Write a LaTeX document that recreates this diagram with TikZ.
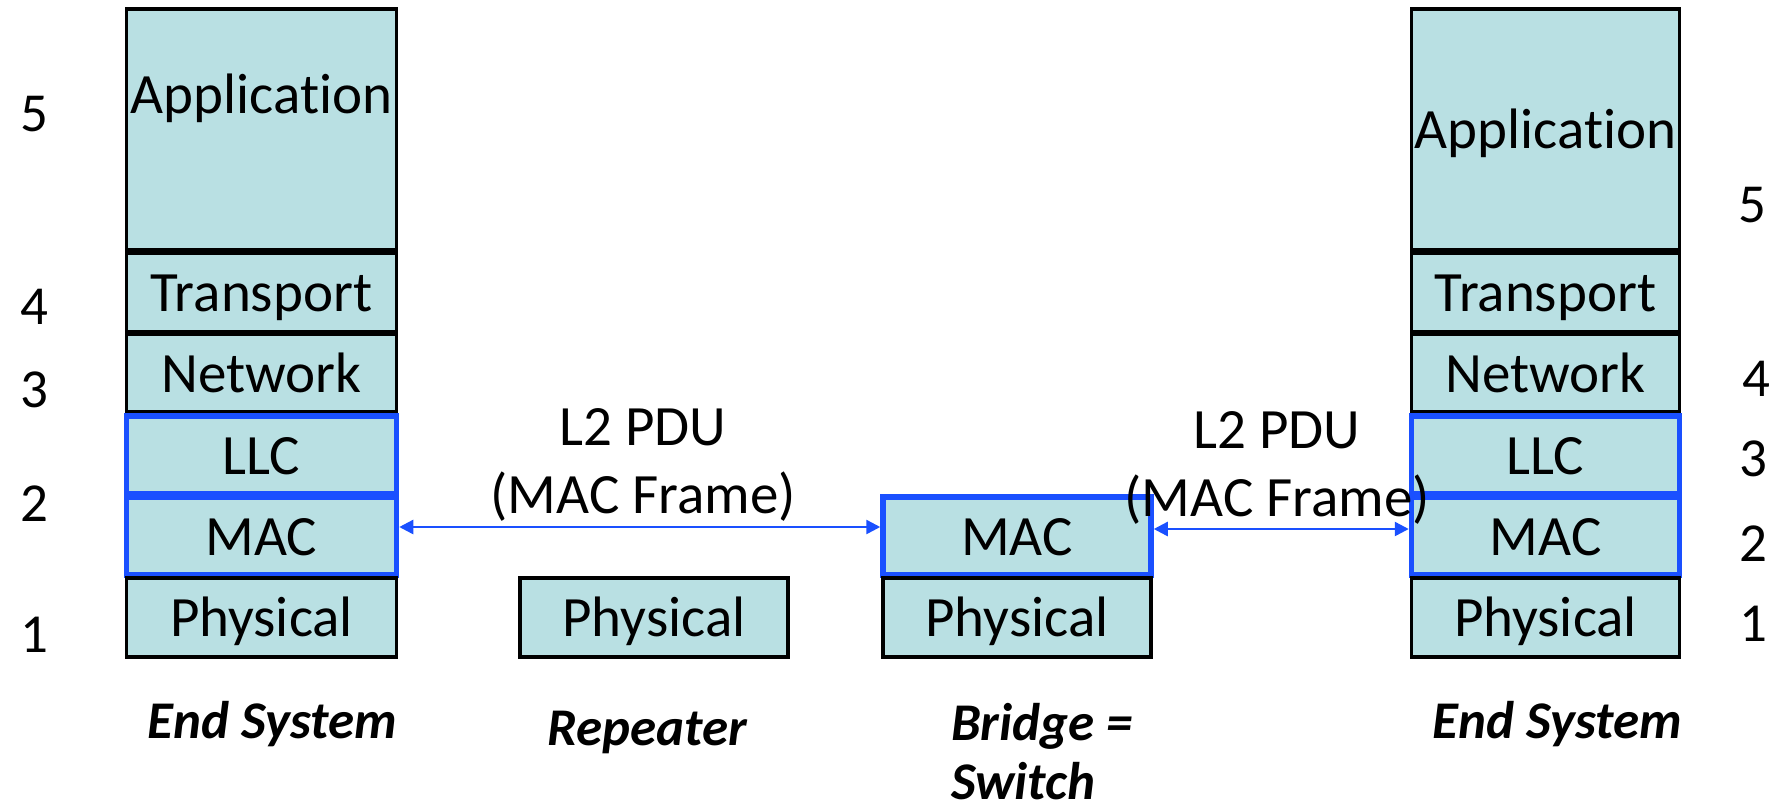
\documentclass[tikz,border=0pt]{standalone}
\usepackage{fontspec}
\setmainfont[Ligatures=NoCommon]{Carlito}
\usetikzlibrary{arrows.meta}
\definecolor{layerfill}{RGB}{185,224,227}
\definecolor{linkblue}{RGB}{26,80,255}
\begin{document}
\begin{tikzpicture}[x=1pt,y=-1pt,
  layer/.style={draw=black, line width=3.5pt, fill=layerfill, inner sep=0pt,
    minimum width=268pt, text height=42pt, text depth=4pt, font=\fontsize{57}{60}\selectfont},
  bluelayer/.style={layer, draw=linkblue, line width=5.5pt},
  num/.style={font=\fontsize{55}{60}\selectfont, inner sep=0pt},
  lbl/.style={font=\fontsize{57}{68}\selectfont, align=center, inner sep=0pt},
  sysname/.style={font=\fontsize{53}{59}\selectfont\bfseries\itshape, inner sep=0pt},
  link/.style={draw=linkblue, line width=2.5pt, {Triangle[length=14pt,width=14pt]}-{Triangle[length=14pt,width=14pt]}}
]
\useasboundingbox (0,0) rectangle (1784,807);

% Left end system
\node[layer, minimum width=270pt, minimum height=241pt] (appL) at (261.5,129.5) {};
\node[font=\fontsize{57}{60}\selectfont, inner sep=0pt] (appLt) at (261.5,98) {Application};
\node[layer, minimum width=270pt, minimum height=79pt] (trL) at (261.5,292.5) {Transport};
\node[layer, minimum width=270pt, minimum height=78pt] (netL) at (261.5,373) {Network};
\node[bluelayer, minimum width=270pt, minimum height=78pt] (llcL) at (261.5,455) {LLC};
\node[bluelayer, minimum width=270pt, minimum height=78pt] (macL) at (261.5,536) {MAC};
\node[layer, minimum width=270pt, minimum height=79pt] (phyL) at (261.5,617.5) {Physical};

% Repeater
\node[layer, minimum height=79pt] (phyRep) at (654,617.5) {Physical};

% Bridge
\node[bluelayer, minimum height=78pt] (macB) at (1017,536) {MAC};
\node[layer, minimum height=79pt] (phyB) at (1017,617.5) {Physical};

% Right end system
\node[layer, minimum height=241pt] (appR) at (1545.5,129.5) {Application};
\node[layer, minimum height=79pt] (trR) at (1545.5,292.5) {Transport};
\node[layer, minimum height=78pt] (netR) at (1545.5,373) {Network};
\node[bluelayer, minimum height=78pt] (llcR) at (1545.5,455) {LLC};
\node[bluelayer, minimum height=78pt] (macR) at (1545.5,536) {MAC};
\node[layer, minimum height=79pt] (phyR) at (1545.5,617.5) {Physical};

% Links
\draw[link] ([yshift=9pt]macL.east) -- ([yshift=9pt]macB.west);
\draw[link] ([yshift=7pt]macB.east) -- ([yshift=7pt]macR.west);

% PDU labels
\node[lbl] (pdu1) at (643,465) {L2 PDU\\(MAC Frame)};
\node[lbl] (pdu2) at (1277,468) {L2 PDU\\(MAC Frame)};

% Left numbers
\node[num] (nL5) at (34,114) {5};
\node[num] (nL4) at (34,307) {4};
\node[num] (nL3) at (34,390) {3};
\node[num] (nL2) at (34,504) {2};
\node[num] (nL1) at (34,635) {1};

% Right numbers
\node[num] (nR5) at (1752,205) {5};
\node[num] (nR4) at (1756,379) {4};
\node[num] (nR3) at (1753,459) {3};
\node[num] (nR2) at (1753,544) {2};
\node[num] (nR1) at (1753,624) {1};

% System names
\node[sysname] (esL) at (272.5,724) {End System};
\node[sysname] (rep) at (647.5,732) {Repeater};
\node[sysname, anchor=base west] (brg1) at (951,740) {Bridge =};
\node[sysname, anchor=base west] (brg2) at (951,799) {Switch};
\node[sysname] (esR) at (1557.5,724) {End System};
\end{tikzpicture}
\end{document}
